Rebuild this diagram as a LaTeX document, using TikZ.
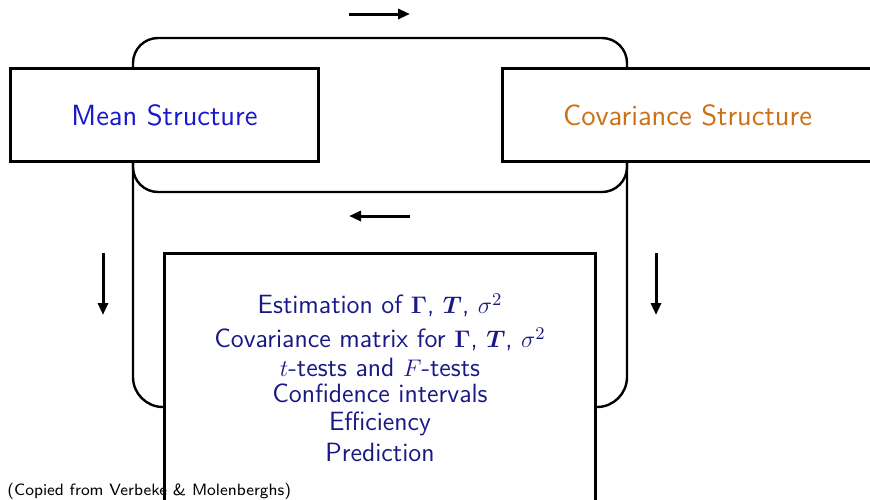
\documentclass[tikz,border=0pt]{standalone}
\usepackage{amsmath,bm}
\usetikzlibrary{calc,arrows.meta,positioning}
\definecolor{meanblue}{rgb}{0.1,0.1,0.8}
\definecolor{covorange}{rgb}{0.8,0.44,0.08}
\definecolor{navy}{rgb}{0.1,0.1,0.52}
\tikzset{
	structbox/.style={
		draw, rectangle, line width=1.5pt, fill=white,
		minimum height=46.5pt, inner xsep=30.5pt,
		font=\sffamily\fontsize{14.6}{17}\selectfont
	},
	resultbox/.style={
		draw, rectangle, line width=1.5pt, anchor=north,
		minimum width=215.5pt, minimum height=300pt
	},
	resultlist/.style={
		align=center, anchor=north, inner sep=0pt, text=navy,
		font=\sffamily\fontsize{13.2}{12.5}\selectfont
	},
	loopline/.style={line width=1.2pt},
	flow_arrow/.style={-{Triangle[length=6pt,width=5pt]}, line width=1.5pt}
}

\begin{document}
\begin{tikzpicture}[x=0.5pt,y=-0.5pt]
	\useasboundingbox (0,0) rectangle (870,499);
	\clip (0,0) rectangle (870,499);
	\coordinate (loopL) at (133,38);
	\coordinate (loopR) at (627,192);
	% loop between the two structures
	\draw[loopline, rounded corners=12.5pt] (loopL) rectangle (loopR);
	\node[structbox, text=meanblue]  (mean) at (164.5,115) {Mean Structure};
	\node[structbox, text=covorange] (cov)  at (687.5,115) {Covariance Structure};
	\node[font=\sffamily\fontsize{8.2}{10}\selectfont, anchor=west, inner sep=0pt] (note) at (7,491) {(Copied from Verbeke \& Molenberghs)};
	\node[resultbox] (infer) at (380,252) {};
	\node[resultlist] (items) at (380,293) {Estimation of $\mathbf{\Gamma}$, $\bm{T}$, $\sigma^2$\\[4.5pt]
		Covariance matrix for $\mathbf{\Gamma}$, $\bm{T}$, $\sigma^2$\\[2pt]
		$t$-tests and $F$-tests\\[0.5pt]
		Confidence intervals\\[1.5pt]
		Efficiency\\[3pt]
		Prediction};
	\coordinate (jL) at ($(infer.north west)+(0,155)$);
	\coordinate (jR) at ($(infer.north east)+(0,155)$);
	\draw[loopline, rounded corners=15pt] (mean.south -| loopL) |- (jL);
	\draw[loopline, rounded corners=15pt] (cov.south -| loopR) |- (jR);
	% direction marks
	\coordinate (topA) at (349,14);  \coordinate (topB) at (410,14);
	\coordinate (midA) at (410,216); \coordinate (midB) at (349,216);
	\coordinate (lftA) at (103,253); \coordinate (lftB) at (103,315);
	\coordinate (rgtA) at (656,253); \coordinate (rgtB) at (656,315);
	\draw[flow_arrow] (topA) -- (topB);
	\draw[flow_arrow] (midA) -- (midB);
	\draw[flow_arrow] (lftA) -- (lftB);
	\draw[flow_arrow] (rgtA) -- (rgtB);
\end{tikzpicture}
\end{document}
